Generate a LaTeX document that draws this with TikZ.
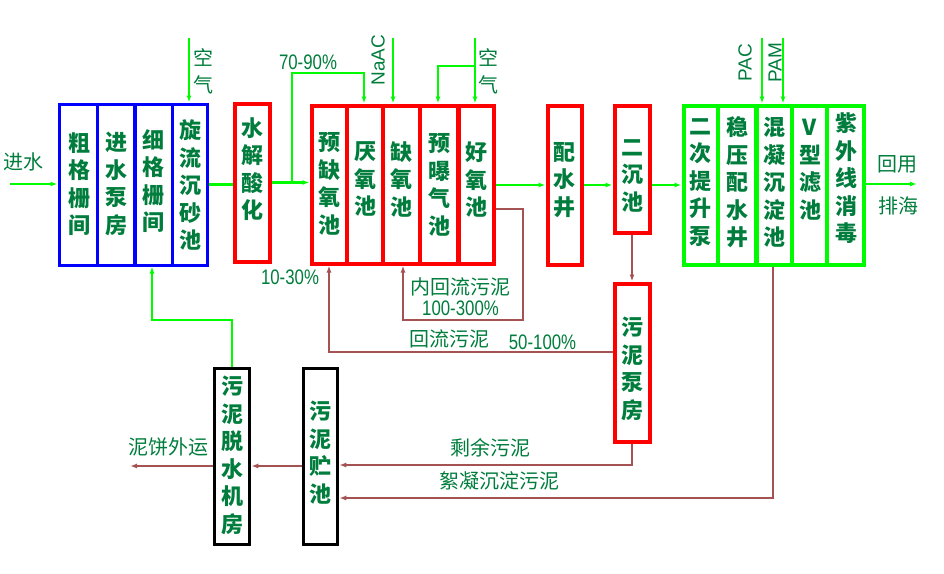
\documentclass[tikz,border=0pt]{standalone}
\usepackage{fontspec}
\newfontfamily\cjk{Noto Sans CJK SC}
\newfontfamily\numf[FakeStretch=0.8]{Liberation Sans}
\newfontfamily\latf{Liberation Sans}
\usetikzlibrary{arrows.meta}
\definecolor{txtg}{RGB}{0,125,60}
\definecolor{lg}{RGB}{0,250,0}
\definecolor{br}{RGB}{165,82,82}
\begin{document}
\begin{tikzpicture}[x=1pt,y=-1pt,
  boxtxt/.style={text=txtg, font=\cjk\bfseries\fontsize{22}{27.5}\selectfont, align=center, inner sep=0},
  lbl/.style={text=txtg, font=\cjk\fontsize{20}{27}\selectfont, align=center, inner sep=0},
  num/.style={text=txtg, font=\numf\fontsize{21}{24}\selectfont, inner sep=0},
  rot/.style={text=txtg, font=\latf\fontsize{19}{22}\selectfont, inner sep=0, rotate=90},
  unit/.style={inner sep=0, rectangle},
  gl/.style={draw=lg, line width=2.3},
  bl/.style={draw=br, line width=1.8},
  arr/.style={-{Latex[length=7pt,width=5pt]}}]
\useasboundingbox (0,0) rectangle (944,573);

% ---------- boxes ----------
\node[unit, draw=blue, line width=3, minimum width=148, minimum height=161] (pre) at (133,184.5) {};
\draw[blue, line width=3] (97,104) -- (97,265);
\draw[blue, line width=4.5] (135,104) -- (135,265);
\draw[blue, line width=3] (172,104) -- (172,265);

\node[unit, draw=red, line width=4, minimum width=35, minimum height=158] (hyd) at (252,182.5) {};

\node[unit, draw=red, line width=4, minimum width=182, minimum height=158] (bio) at (402.5,184.5) {};
\draw[red, line width=4] (347,105) -- (347,264);
\draw[red, line width=4] (383,105) -- (383,264);
\draw[red, line width=4] (420,105) -- (420,264);
\draw[red, line width=5] (458,105) -- (458,264);

\node[unit, draw=red, line width=4, minimum width=34, minimum height=159] (pw) at (564.5,185) {};
\node[unit, draw=red, line width=4, minimum width=35, minimum height=127] (erc) at (632,169) {};
\node[unit, draw=red, line width=4, minimum width=35, minimum height=158] (pump) at (632,362.5) {};

\node[unit, draw=lg, line width=4, minimum width=180, minimum height=159] (grn) at (773.5,185) {};
\draw[lg, line width=4] (718,105) -- (718,264);
\draw[lg, line width=5] (756,105) -- (756,264);
\draw[lg, line width=4] (792,105) -- (792,264);
\draw[lg, line width=4] (827,105) -- (827,264);

\node[unit, draw=black, line width=3.5, minimum width=35, minimum height=176] (dew) at (232,456.5) {};
\node[unit, draw=black, line width=3.5, minimum width=34, minimum height=176] (sto) at (320.5,456.5) {};

% ---------- box texts ----------
\node[boxtxt] (t1) at (79,184) {粗\\格\\栅\\间};
\node[boxtxt] (t2) at (116,184) {进\\水\\泵\\房};
\node[boxtxt] (t3) at (153,181) {细\\格\\栅\\间};
\node[boxtxt] (t4) at (190,185) {旋\\流\\沉\\砂\\池};
\node[boxtxt] (t5) at (252,169) {水\\解\\酸\\化};
\node[boxtxt] (t6) at (329,184) {预\\缺\\氧\\池};
\node[boxtxt] (t7) at (365,179) {厌\\氧\\池};
\node[boxtxt] (t8) at (401,179) {缺\\氧\\池};
\node[boxtxt] (t9) at (439,185) {预\\曝\\气\\池};
\node[boxtxt] (t10) at (476,180) {好\\氧\\池};
\node[boxtxt] (t11) at (564,180) {配\\水\\井};
\node[boxtxt] (t12) at (632,175.5) {二\\沉\\池};
\node[boxtxt] (t13) at (632,369) {污\\泥\\泵\\房};
\node[boxtxt] (t14) at (700,182.5) {二\\次\\提\\升\\泵};
\node[boxtxt] (t15) at (737,182.5) {稳\\压\\配\\水\\井};
\node[boxtxt] (t16) at (774,182.5) {混\\凝\\沉\\淀\\池};
\node[boxtxt] (t17) at (810,169.5) {V\\型\\滤\\池};
\node[boxtxt] (t18) at (846,178.5) {紫\\外\\线\\消\\毒};
\node[boxtxt] (t19) at (232,455.5) {污\\泥\\脱\\水\\机\\房};
\node[boxtxt] (t20) at (320,452.5) {污\\泥\\贮\\池};

% ---------- labels ----------
\node[lbl] (l1) at (23,161.5) {进水};
\node[lbl] (l2) at (203,71) {空\\气};
\node[lbl] (l3) at (488,71) {空\\气};
\node[num] (l4) at (308,62.5) {70-90\%};
\node[rot] (l5) at (378,60) {NaAC};
\node[rot] (l6) at (745,62.5) {PAC};
\node[rot] (l7) at (775,62.5) {PAM};
\node[num] (l8) at (290,277.5) {10-30\%};
\node[lbl] (l9) at (460.5,287) {内回流污泥};
\node[num] (l10) at (460.5,308.5) {100-300\%};
\node[lbl] (l11) at (449.5,339) {回流污泥};
\node[num] (l12) at (542.5,342) {50-100\%};
\node[lbl] (l13) at (490.5,447.5) {剩余污泥};
\node[lbl] (l14) at (499,481) {絮凝沉淀污泥};
\node[lbl] (l15) at (168,446.5) {泥饼外运};
\node[lbl] (l16) at (897,164) {回用};
\node[lbl] (l17) at (898,206) {排海};

% ---------- green connectors ----------
\coordinate (inw) at (10,184);
\draw[gl,arr] (inw) -- (inw -| pre.west);
\draw[gl] (pre.east) -- (pre.east -| hyd.west);
\draw[gl,arr] (hyd.east) -- (hyd.east -| bio.west);
\coordinate (b1) at (292,73);
\coordinate (b2) at (364,73);
\draw[gl,arr] (b1 |- hyd.east) -- (b1) -- (b2) -- (b2 |- bio.north);
\coordinate (a1) at (189,38);
\draw[gl,arr] (a1) -- (a1 |- pre.north);
\coordinate (na) at (393,38);
\draw[gl,arr] (na) -- (na |- bio.north);
\coordinate (a2) at (475,38);
\coordinate (a2b) at (438,66);
\draw[gl,arr] (a2) -- (a2 |- bio.north);
\draw[gl,arr] (a2 |- a2b) -- (a2b) -- (a2b |- bio.north);
\draw[gl,arr] (bio.east |- pw.east) -- (pw.west);
\draw[gl,arr] (pw.east) -- (pw.east -| erc.west);
\draw[gl,arr] (erc.east |- pw.east) -- (pw.east -| grn.west);
\coordinate (out) at (917,184);
\draw[gl,arr] (grn.east |- out) -- (out);
\coordinate (pac) at (762,38);
\coordinate (pam) at (783,38);
\draw[gl,arr] (pac) -- (pac |- grn.north);
\draw[gl,arr] (pam) -- (pam |- grn.north);
\coordinate (f1) at (232,320);
\coordinate (f2) at (152,320);
\draw[gl,arr] (dew.north) -- (f1) -- (f2) -- (f2 |- pre.south);

% ---------- sludge connectors ----------
\draw[bl,arr] (erc.south) -- (pump.north);
\coordinate (ir1) at (523,209);
\coordinate (ir2) at (403,320);
\draw[bl,arr] (bio.east |- ir1) -- (ir1) |- (ir2) -- (ir2 |- bio.south);
\coordinate (rr) at (329,352);
\draw[bl,arr] (pump.west |- rr) -- (rr) -- (rr |- bio.south);
\coordinate (sy) at (632,465);
\draw[bl,arr] (pump.south) -- (sy) -- (sy -| sto.east);
\coordinate (xn) at (773,498);
\draw[bl,arr] (grn.south -| xn) -- (xn) -- (xn -| sto.east);
\coordinate (dw) at (0,466);
\draw[bl,arr] (sto.west |- dw) -- (dew.east |- dw);
\coordinate (cake) at (130,466);
\draw[bl,arr] (dew.west |- cake) -- (cake);
\end{tikzpicture}
\end{document}
